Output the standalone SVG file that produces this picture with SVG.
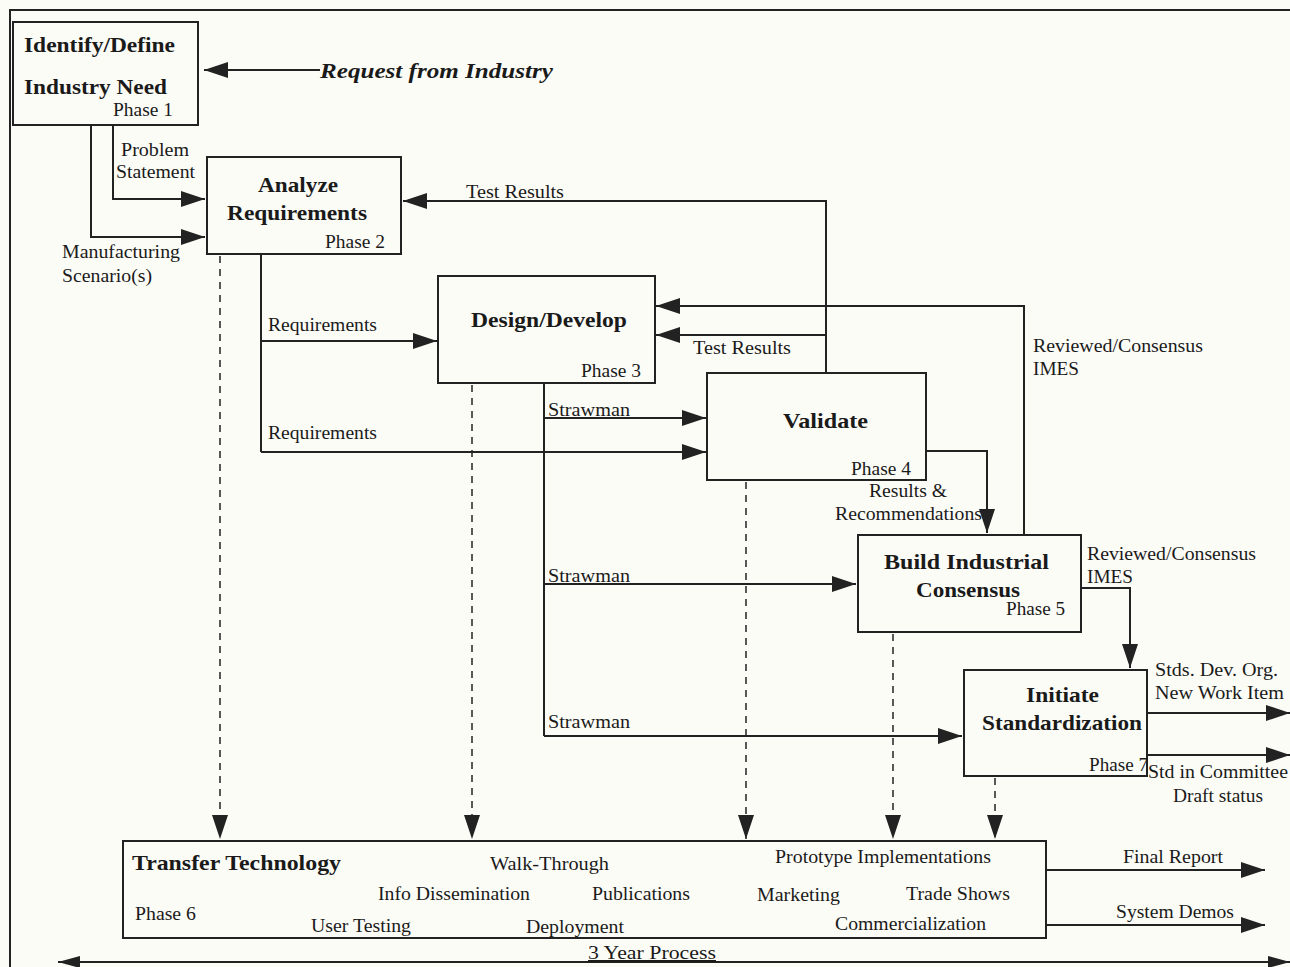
<svg xmlns="http://www.w3.org/2000/svg" width="1290" height="967" viewBox="0 0 1290 967">
  <style>
    .bg { fill: #fcfcf7; }
    .box { fill: none; stroke: #222; stroke-width: 2; }
    .ln { fill: none; stroke: #222; stroke-width: 2; }
    .dash { fill: none; stroke: #222; stroke-width: 1.5; stroke-dasharray: 7 6; }
    text { font-family: "Liberation Serif", "Times New Roman", serif; fill: #1a1a1a; }
    .t { font-size: 18px; }
    .b { font-size: 22px; font-weight: bold; }
  </style>
  <defs>
    <marker id="ah" viewBox="0 0 24 16" refX="24" refY="8" markerWidth="24" markerHeight="16" markerUnits="userSpaceOnUse" orient="auto">
      <path d="M0,0 L24,8 L0,16 Z" fill="#222"/>
    </marker>
    <marker id="ahs" viewBox="0 0 22 12" refX="22" refY="6" markerWidth="22" markerHeight="12" markerUnits="userSpaceOnUse" orient="auto-start-reverse">
      <path d="M0,0 L22,6 L0,12 Z" fill="#222"/>
    </marker>
  </defs>

  <rect class="bg" x="0" y="0" width="1290" height="967"/>
  <!-- outer frame -->
  <path class="ln" d="M10,967 V10 H1290"/>

  <!-- connectors -->
  <g id="connectors">
    <line class="ln" x1="320" y1="70" x2="204" y2="70" marker-end="url(#ah)"/>
    <path class="ln" d="M113,125 V199 H205" marker-end="url(#ah)"/>
    <path class="ln" d="M91,125 V237 H205" marker-end="url(#ah)"/>
    <path class="ln" d="M826,373 V201 H403" marker-end="url(#ah)"/>
    <path class="ln" d="M261,254 V452"/>
    <line class="ln" x1="261" y1="341" x2="437" y2="341" marker-end="url(#ah)"/>
    <line class="ln" x1="261" y1="452" x2="706" y2="452" marker-end="url(#ah)"/>
    <path class="ln" d="M1024,535 V306 H656" marker-end="url(#ah)"/>
    <line class="ln" x1="826" y1="335" x2="656" y2="335" marker-end="url(#ah)"/>
    <path class="ln" d="M544,383 V736"/>
    <line class="ln" x1="544" y1="418" x2="706" y2="418" marker-end="url(#ah)"/>
    <line class="ln" x1="544" y1="584" x2="856" y2="584" marker-end="url(#ah)"/>
    <line class="ln" x1="544" y1="736" x2="962" y2="736" marker-end="url(#ah)"/>
    <path class="ln" d="M926,451 H987 V533" marker-end="url(#ah)"/>
    <path class="ln" d="M1081,588 H1130 V668" marker-end="url(#ah)"/>
    <line class="ln" x1="1147" y1="713" x2="1290" y2="713" marker-end="url(#ah)"/>
    <line class="ln" x1="1147" y1="755" x2="1290" y2="755" marker-end="url(#ah)"/>
    <line class="ln" x1="1046" y1="870" x2="1265" y2="870" marker-end="url(#ah)"/>
    <line class="ln" x1="1046" y1="925" x2="1265" y2="925" marker-end="url(#ah)"/>
    <line class="ln" x1="58" y1="962" x2="1290" y2="962" marker-start="url(#ahs)" marker-end="url(#ahs)"/>
    <!-- dashed feeds into Transfer Technology -->
    <line class="dash" x1="220" y1="256" x2="220" y2="839" marker-end="url(#ah)"/>
    <line class="dash" x1="472" y1="385" x2="472" y2="839" marker-end="url(#ah)"/>
    <line class="dash" x1="746" y1="482" x2="746" y2="839" marker-end="url(#ah)"/>
    <line class="dash" x1="893" y1="634" x2="893" y2="839" marker-end="url(#ah)"/>
    <line class="dash" x1="995" y1="778" x2="995" y2="839" marker-end="url(#ah)"/>
  </g>

  <!-- connector labels -->
  <g id="labels">
    <text x="320" y="78" style="font-size:22px;font-weight:bold;font-style:italic" textLength="233" lengthAdjust="spacingAndGlyphs">Request from Industry</text>
    <text class="t" x="121" y="156" textLength="68" lengthAdjust="spacingAndGlyphs">Problem</text>
    <text class="t" x="116" y="178" textLength="79" lengthAdjust="spacingAndGlyphs">Statement</text>
    <text class="t" x="62" y="258" textLength="118" lengthAdjust="spacingAndGlyphs">Manufacturing</text>
    <text class="t" x="62" y="282" textLength="90" lengthAdjust="spacingAndGlyphs">Scenario(s)</text>
    <text class="t" x="466" y="198" textLength="98" lengthAdjust="spacingAndGlyphs">Test Results</text>
    <text class="t" x="268" y="331" textLength="109" lengthAdjust="spacingAndGlyphs">Requirements</text>
    <text class="t" x="268" y="439" textLength="109" lengthAdjust="spacingAndGlyphs">Requirements</text>
    <text class="t" x="693" y="354" textLength="98" lengthAdjust="spacingAndGlyphs">Test Results</text>
    <text class="t" x="1033" y="352" textLength="170" lengthAdjust="spacingAndGlyphs">Reviewed/Consensus</text>
    <text class="t" x="1033" y="375" textLength="46" lengthAdjust="spacingAndGlyphs">IMES</text>
    <text class="t" x="548" y="416" textLength="82" lengthAdjust="spacingAndGlyphs">Strawman</text>
    <text class="t" x="548" y="582" textLength="82" lengthAdjust="spacingAndGlyphs">Strawman</text>
    <text class="t" x="548" y="728" textLength="82" lengthAdjust="spacingAndGlyphs">Strawman</text>
    <text class="t" x="869" y="497" textLength="78" lengthAdjust="spacingAndGlyphs">Results &amp;</text>
    <text class="t" x="835" y="520" textLength="147" lengthAdjust="spacingAndGlyphs">Recommendations</text>
    <text class="t" x="1087" y="560" textLength="169" lengthAdjust="spacingAndGlyphs">Reviewed/Consensus</text>
    <text class="t" x="1087" y="583" textLength="46" lengthAdjust="spacingAndGlyphs">IMES</text>
    <text class="t" x="1155" y="676" textLength="123" lengthAdjust="spacingAndGlyphs">Stds. Dev. Org.</text>
    <text class="t" x="1155" y="699" textLength="129" lengthAdjust="spacingAndGlyphs">New Work Item</text>
    <text class="t" x="1148" y="778" textLength="140" lengthAdjust="spacingAndGlyphs">Std in Committee</text>
    <text class="t" x="1173" y="802" textLength="90" lengthAdjust="spacingAndGlyphs">Draft status</text>
    <text class="t" x="1123" y="863" textLength="100" lengthAdjust="spacingAndGlyphs">Final Report</text>
    <text class="t" x="1116" y="918" textLength="118" lengthAdjust="spacingAndGlyphs">System Demos</text>
    <text class="t" x="588" y="959" textLength="128" lengthAdjust="spacingAndGlyphs" text-decoration="underline">3 Year Process</text>
  </g>

  <!-- Phase 1 -->
  <g id="phase1">
    <rect class="box" x="13" y="22" width="185" height="103"/>
    <text class="b" x="24" y="52" textLength="151" lengthAdjust="spacingAndGlyphs">Identify/Define</text>
    <text class="b" x="24" y="94" textLength="143" lengthAdjust="spacingAndGlyphs">Industry Need</text>
    <text class="t" x="113" y="116" textLength="60" lengthAdjust="spacingAndGlyphs">Phase 1</text>
  </g>

  <!-- Phase 2 -->
  <g id="phase2">
    <rect class="box" x="207" y="157" width="194" height="97"/>
    <text class="b" x="258" y="192" textLength="80" lengthAdjust="spacingAndGlyphs">Analyze</text>
    <text class="b" x="227" y="220" textLength="140" lengthAdjust="spacingAndGlyphs">Requirements</text>
    <text class="t" x="325" y="248" textLength="60" lengthAdjust="spacingAndGlyphs">Phase 2</text>
  </g>

  <!-- Phase 3 -->
  <g id="phase3">
    <rect class="box" x="438" y="276" width="217" height="107"/>
    <text class="b" x="471" y="327" textLength="156" lengthAdjust="spacingAndGlyphs">Design/Develop</text>
    <text class="t" x="581" y="377" textLength="60" lengthAdjust="spacingAndGlyphs">Phase 3</text>
  </g>

  <!-- Phase 4 -->
  <g id="phase4">
    <rect class="box" x="707" y="373" width="219" height="107"/>
    <text class="b" x="783" y="428" textLength="85" lengthAdjust="spacingAndGlyphs">Validate</text>
    <text class="t" x="851" y="475" textLength="60" lengthAdjust="spacingAndGlyphs">Phase 4</text>
  </g>

  <!-- Phase 5 -->
  <g id="phase5">
    <rect class="box" x="858" y="535" width="223" height="97"/>
    <text class="b" x="884" y="569" textLength="165" lengthAdjust="spacingAndGlyphs">Build  Industrial</text>
    <text class="b" x="916" y="597" textLength="104" lengthAdjust="spacingAndGlyphs">Consensus</text>
    <text class="t" x="1006" y="615" textLength="59" lengthAdjust="spacingAndGlyphs">Phase 5</text>
  </g>

  <!-- Phase 7 -->
  <g id="phase7">
    <rect class="box" x="964" y="670" width="183" height="106"/>
    <text class="b" x="1026" y="702" textLength="73" lengthAdjust="spacingAndGlyphs">Initiate</text>
    <text class="b" x="982" y="730" textLength="160" lengthAdjust="spacingAndGlyphs">Standardization</text>
    <text class="t" x="1089" y="771" textLength="59" lengthAdjust="spacingAndGlyphs">Phase 7</text>
  </g>

  <!-- Phase 6 -->
  <g id="phase6">
    <rect class="box" x="123" y="841" width="923" height="97"/>
    <text class="b" x="132" y="870" textLength="209" lengthAdjust="spacingAndGlyphs">Transfer Technology</text>
    <text class="t" x="490" y="870" textLength="119" lengthAdjust="spacingAndGlyphs">Walk-Through</text>
    <text class="t" x="775" y="863" textLength="216" lengthAdjust="spacingAndGlyphs">Prototype Implementations</text>
    <text class="t" x="378" y="900" textLength="152" lengthAdjust="spacingAndGlyphs">Info Dissemination</text>
    <text class="t" x="592" y="900" textLength="98" lengthAdjust="spacingAndGlyphs">Publications</text>
    <text class="t" x="757" y="901" textLength="83" lengthAdjust="spacingAndGlyphs">Marketing</text>
    <text class="t" x="906" y="900" textLength="104" lengthAdjust="spacingAndGlyphs">Trade Shows</text>
    <text class="t" x="135" y="920" textLength="61" lengthAdjust="spacingAndGlyphs">Phase 6</text>
    <text class="t" x="311" y="932" textLength="100" lengthAdjust="spacingAndGlyphs">User Testing</text>
    <text class="t" x="526" y="933" textLength="98" lengthAdjust="spacingAndGlyphs">Deployment</text>
    <text class="t" x="835" y="930" textLength="151" lengthAdjust="spacingAndGlyphs">Commercialization</text>
  </g>
</svg>
